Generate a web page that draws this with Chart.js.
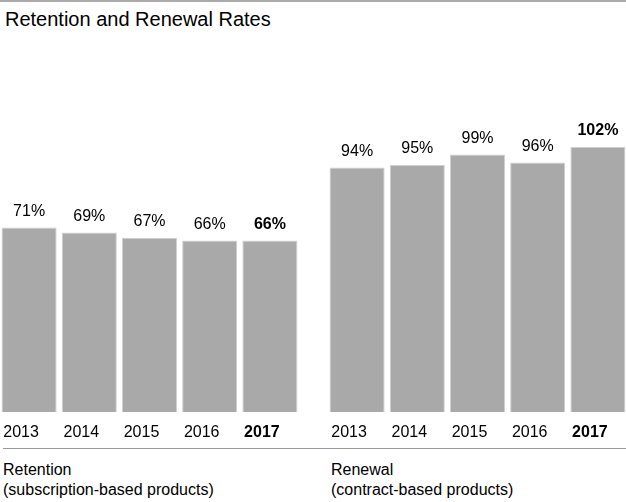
<!DOCTYPE html>
<html>
<head>
<meta charset="utf-8">
<script src="https://cdn.jsdelivr.net/npm/chart.js@4.4.1/dist/chart.umd.min.js"></script>
<style>
  body { margin: 0; width: 626px; height: 502px; overflow: hidden; background: #fff;
         font-family: "Liberation Sans", Arial, sans-serif; position: relative; }
  .rule { position: absolute; left: 0; width: 626px; height: 2px; background: #aaaaaa; }
  .title { position: absolute; left: 5px; top: 8px; font-size: 20px; color: #000; }
  .group { position: absolute; top: 460px; font-size: 16px; line-height: 20px; color: #000; }
  .box { position: absolute; top: 50px; height: 400px; }
</style>
</head>
<body>
<div class="rule" style="top:0"></div>
<div class="title">Retention and Renewal Rates</div>
<div class="box" style="left:-1px;width:301px"><canvas id="retentionChart"></canvas></div>
<div class="box" style="left:327px;width:301px"><canvas id="renewalChart"></canvas></div>
<div class="rule" style="top:448px;left:3px;height:1px;background:#999"></div>
<div class="group" style="left:3px">Retention<br>(subscription-based products)</div>
<div class="group" style="left:331px">Renewal<br>(contract-based products)</div>

<script>
const years = ["2013", "2014", "2015", "2016", "2017"];
const retentionRates = [71, 69, 67, 66, 66];
const renewalRates = [94, 95, 99, 96, 102];

const fontFamily = "'Liberation Sans', Arial, sans-serif";

// etiquetas de valor em cima das barras
const valueLabels = {
  id: "valueLabels",
  afterDatasetsDraw(chart) {
    const ctx = chart.ctx;
    const meta = chart.getDatasetMeta(0);
    ctx.save();
    ctx.fillStyle = "#000";
    ctx.textAlign = "center";
    ctx.textBaseline = "bottom";
    meta.data.forEach((bar, i) => {
      ctx.font = (i === 4 ? "bold " : "") + "16px " + fontFamily;
      ctx.fillText(chart.data.datasets[0].data[i] + "%", bar.x, bar.y - 8);
    });
    ctx.restore();
  },
};

function makeChart(id, values) {
  const ctx = document.getElementById(id).getContext("2d");
  return new Chart(ctx, {
    type: "bar",
    data: {
      labels: years,
      datasets: [
        {
          data: values,
          backgroundColor: "#a9a9a9",
          borderColor: "#d0d0d0",
          borderWidth: 1,
          barPercentage: 0.915,
          categoryPercentage: 1,
        },
      ],
    },
    options: {
      responsive: true,
      maintainAspectRatio: false,
      animation: false,
      layout: { padding: { top: 76, left: 0, right: 0, bottom: 0 } },
      scales: {
        x: {
          grid: { display: false, drawTicks: false },
          border: { display: false },
          ticks: {
            color: "#000",
            padding: 11,
            labelOffset: -8,
            font: (c) => ({ family: fontFamily, size: 16, weight: c.index === 4 ? "bold" : "normal" }),
          },
          afterFit: (scale) => { scale.height = 38; },
        },
        y: { display: false, min: 0, max: 110 },
      },
      plugins: {
        legend: { display: false },
        tooltip: { enabled: false },
      },
    },
    plugins: [valueLabels],
  });
}

makeChart("retentionChart", retentionRates);
makeChart("renewalChart", renewalRates);
</script>
</body>
</html>
